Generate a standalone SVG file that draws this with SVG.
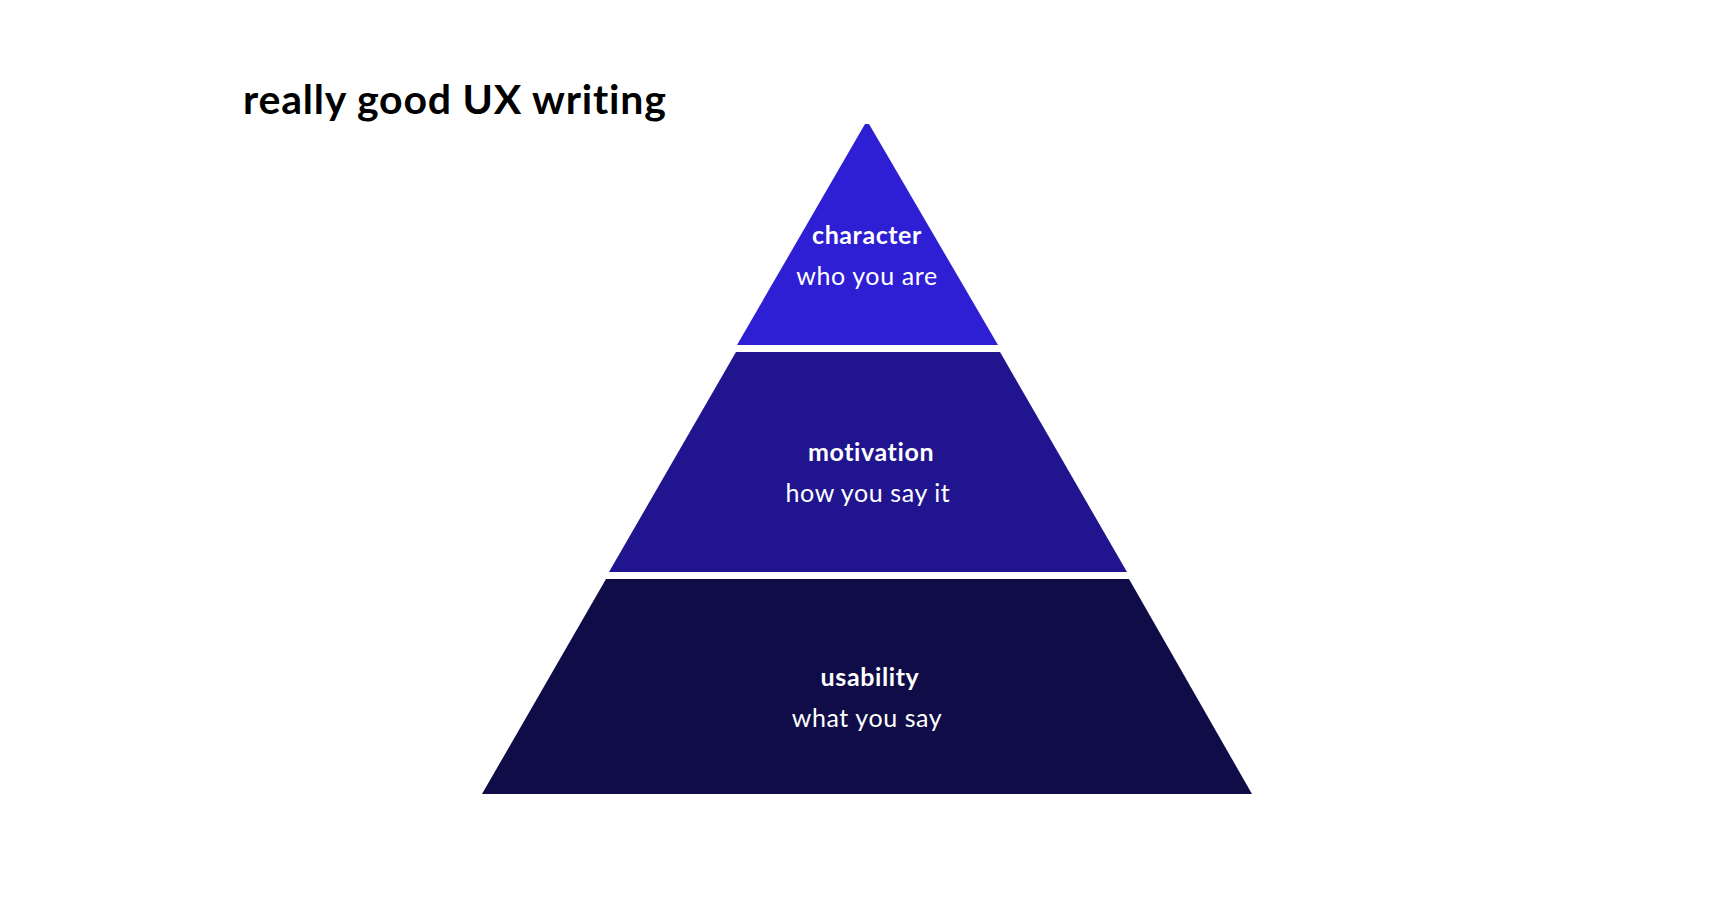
<svg xmlns="http://www.w3.org/2000/svg" width="1726" height="915" viewBox="0 0 1726 915">
<style>
.t{font-family:Lato,"Open Sans","Liberation Sans",sans-serif;fill:#fff;text-anchor:middle;font-size:25px;letter-spacing:0.6px}
.b{font-weight:700}
</style>
<rect width="1726" height="915" fill="#fff"/>
<text x="243" y="114" font-family="Lato,'Open Sans','Liberation Sans',sans-serif" font-weight="700" font-size="41" letter-spacing="0.8" fill="#000">really good UX writing</text>
<g id="character">
<polygon points="865,124 869,124 998,345 737,345" fill="#2E1FD4"/>
<text class="t b" x="867" y="244">character</text>
<text class="t" x="867" y="285">who you are</text>
</g>
<g id="motivation">
<polygon points="736,352 1000,352 1127,572 609,572" fill="#20158F"/>
<text class="t b" x="871" y="461">motivation</text>
<text class="t" x="868" y="502">how you say it</text>
</g>
<g id="usability">
<polygon points="606,579 1129,579 1252,794 482,794" fill="#100C47"/>
<text class="t b" x="870" y="686">usability</text>
<text class="t" x="867" y="727">what you say</text>
</g>
<g id="connectors"/>
</svg>
